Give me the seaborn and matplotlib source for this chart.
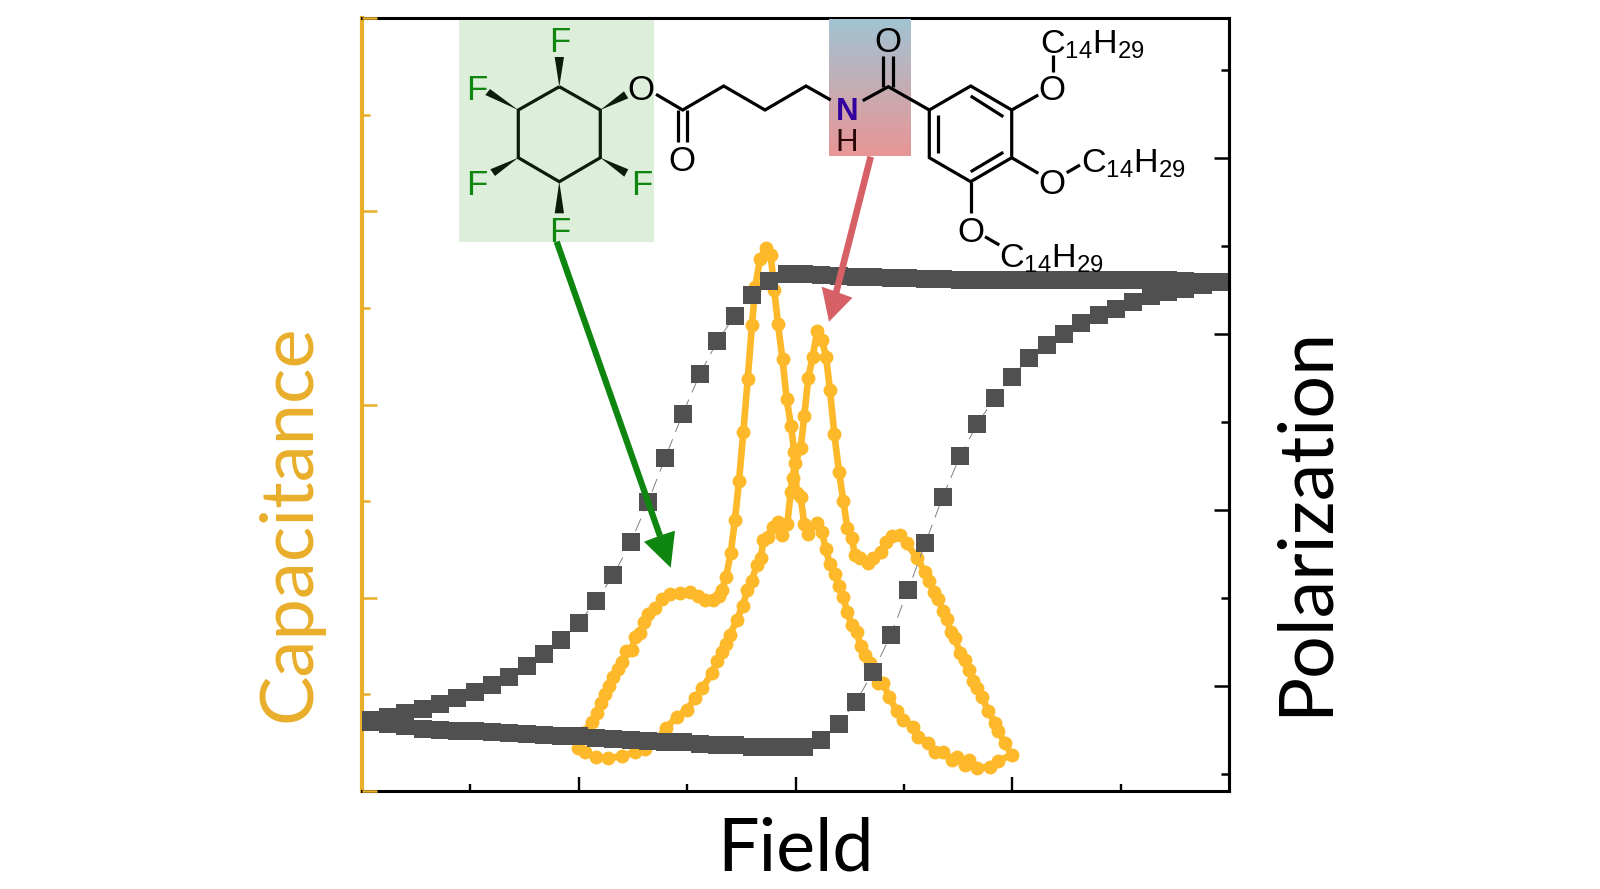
import matplotlib
matplotlib.use("Agg")
import matplotlib.pyplot as plt
import numpy as np
import seaborn as sns
from matplotlib.colors import LinearSegmentedColormap
from matplotlib.patches import Polygon

# sweep positions shared by the two polarization branches
sweep_field = [-424.8, -407.5, -390.2, -372.8, -355.5, -338.2, -320.8, -303.5, -286.2, -268.8,
               -251.5, -234.2, -216.8, -199.5, -182.2, -164.8, -147.5, -130.2, -112.8, -95.5,
               -78.2, -60.8, -43.5, -26.2, -8.8, 8.5, 25.8, 43.2, 60.5, 77.8,
               95.2, 112.5, 129.8, 147.2, 164.5, 181.8, 199.2, 216.5, 233.8, 251.2,
               268.5, 285.8, 303.2, 320.5, 337.8, 355.2, 372.5, 389.8, 407.2, 424.5]

pol_rising = [-299.7, -301.7, -304.3, -307, -307.7, -308.7, -309, -310.3, -311, -312,
              -312.7, -313.7, -314.3, -316, -316.7, -317.7, -319, -319.7, -320, -321.7,
              -322.7, -323.3, -324.7, -325.3, -325.3, -325.3, -318, -302.3, -279.7, -249.7,
              -213, -168.3, -121, -75, -34.3, -2, 24.3, 45.3, 64, 76.5,
              88, 98.7, 107, 113.3, 120, 125.7, 129.7, 133, 137.3, 140]

pol_falling = [-297.7, -295, -291.3, -287, -282.3, -276.3, -270.3, -262.7, -254.7, -244,
               -232, -218, -200.7, -179, -153.3, -120.3, -80, -35.7, 8.3, 48.2,
               80.7, 106.2, 126.7, 140.7, 148.3, 148.3, 147.3, 146, 145.2, 144.5,
               144, 143.5, 143, 142.6, 142.3, 142, 142, 142, 142, 142.2,
               142.3, 142.4, 142.4, 142.4, 142.4, 142.3, 142.3, 141, 140, 140.3]

cap_field = [-212.2, -203.8, -198.8, -194.5, -190.5, -186.2, -182.2, -177.2, -173.2, -169.5,
             -163.8, -160.5, -155.5, -151.5, -147.2, -140.5, -133.8, -125.5, -115.5, -105.5,
             -97.2, -90.5, -82.2, -76.5, -73.8, -69.5, -64.8, -60.5, -56.5, -52.2,
             -47.8, -43.5, -40.2, -35.5, -29.8, -24.8, -21.2, -17.5, -13, -8.8,
             -4.5, -1.2, 1.2, 5.2, 8.8, 12.8, 21.8, 26.5, 30.2, 34.5,
             39, 43.5, 47.8, 51.8, 56.2, 61.2, 65.2, 69.5, 74.5, 82.8,
             87.8, 93.5, 101.2, 107.8, 117.8, 122.8, 132.8, 139.5, 147.8, 156.2,
             161.2, 169.5, 173.5, 181.2, 194.5, 202.8, 216.2, 209.5, 202.8, 199.5,
             192.8, 186.2, 181.2, 177.2, 173.5, 169.5, 164.5, 159.5, 155.5, 151.2,
             147.2, 142.8, 138.5, 133.8, 129.5, 121.5, 111.2, 104.5, 96.2, 90.5,
             85.2, 77.8, 72.8, 64.5, 59.5, 56.2, 51.8, 47.8, 43.5, 38.8,
             34.5, 30.5, 26.5, 21.8, 17.2, 12.8, 8.8, 5.2, -0.5, -3,
             -4.8, -8.2, -13.2, -17.2, -22.2, -27.2, -32.2, -34.5, -38.8, -43.8,
             -48.2, -52.8, -58.8, -65.5, -69.5, -73.8, -78.2, -83.8, -93.2, -100.5,
             -108.8, -118.8, -129.5, -140.5, -150.5, -160.5, -173.8, -187.2, -199.5, -210.5,
             -217.2, -212.2]

cap_values = [57.7, 69.3, 78.3, 88.3, 97, 105.3, 113.7, 122, 129.3, 140.3,
              141, 153.7, 157.7, 169.3, 176.7, 182.7, 191.7, 197, 198.3, 199.3,
              195, 191, 191, 195, 201, 213.7, 237.7, 271.5, 310, 358.7,
              412, 466.3, 504.3, 531.7, 542.7, 536, 501, 466.7, 431.7, 392,
              365, 339.3, 298, 293.7, 267, 257, 268.3, 259.3, 242, 226.7,
              216.7, 205.5, 194, 178.7, 166, 158.7, 145, 136, 127.7, 108.3,
              107.7, 94.3, 80.3, 71, 64.3, 54.3, 47.7, 39.3, 39.3, 31,
              33.7, 26, 31, 22.7, 24.3, 30.3, 36, 47.7, 60.3, 67.7,
              80.3, 94.3, 102.7, 110, 121, 131, 137.7, 152.7, 159.3, 171.7,
              180.3, 192, 199.3, 210, 219.3, 233, 247.7, 256, 255, 249.3,
              239.3, 232.7, 227.7, 232.7, 236, 253.3, 263.3, 290, 319.3, 357,
              401, 434.3, 451, 460.3, 434.3, 413.3, 375.3, 342.7, 327.7, 313,
              299.3, 267, 256, 269.3, 264.3, 254.3, 251, 232.7, 226, 210,
              201, 185, 171, 156, 147, 139.3, 130.3, 117.7, 102.7, 92.7,
              81, 74.3, 62.7, 49.3, 41.7, 38.7, 35, 32.7, 33.7, 39.3,
              42.7, 57.7]

field_major = [-216.75, 0, 216.75]
field_minor = [-325.1, -108.4, 108.4, 325.1]
cap_major = [0, 193.2, 386.5, 579.8, 773]
cap_minor = [96.6, 289.9, 483.1, 676.4]
pol_major = [-264, -88, 88, 264]
pol_minor = [-352, -176, 0, 176, 352]

ORANGE = "#E9AE2A"
YELLOW = "#FDB92A"
GREY = "#505050"
GREEN = "#0F860F"
RED = "#D66065"
ARIAL = "Liberation Sans"

sns.set_style("ticks")
plt.rcParams["font.family"] = ["Lato", "DejaVu Sans"]
plt.rcParams["mathtext.default"] = "regular"

fig = plt.figure(figsize=(16, 8.89), dpi=100)
ax = fig.add_axes([362 / 1600, 98 / 889, 867 / 1600, 773 / 889])
ax2 = ax.twinx()

# capacitance loop on the left axis
sns.lineplot(x=cap_field, y=cap_values, sort=False, estimator=None, ax=ax, color=YELLOW,
             linewidth=4.8, marker="o", markersize=10, markeredgewidth=0)

# polarization hysteresis on the right axis
for branch in [pol_rising, pol_falling]:
    sns.lineplot(x=sweep_field, y=branch, sort=False, estimator=None, ax=ax2, color="#808080",
                 linewidth=0.7, linestyle=(0, (14, 8)), marker="s", markersize=12.5,
                 markerfacecolor=GREY, markeredgewidth=0)

ax.set_xlim(-433.5, 433.5)
ax.set_ylim(0, 773)
ax2.set_ylim(-369, 404)

ax.set_xticks(field_major)
ax.set_xticks(field_minor, minor=True)
ax.set_yticks(cap_major)
ax.set_yticks(cap_minor, minor=True)
ax2.set_yticks(pol_major)
ax2.set_yticks(pol_minor, minor=True)
ax.set_xticklabels([])
ax.set_yticklabels([])
ax2.set_yticklabels([])

ax.set_axisbelow(False)
ax.tick_params(axis="x", which="major", direction="in", length=10, width=1.7, color="black")
ax.tick_params(axis="x", which="minor", direction="in", length=5, width=1.7, color="black")
ax.tick_params(axis="y", which="major", direction="in", length=11, width=1.8, color=ORANGE)
ax.tick_params(axis="y", which="minor", direction="in", length=5.5, width=1.8, color=ORANGE)
ax2.tick_params(axis="y", which="major", direction="in", length=11, width=1.8, color="black")
ax2.tick_params(axis="y", which="minor", direction="in", length=5.5, width=1.8, color="black")

for side in ["top", "bottom", "right"]:
    ax.spines[side].set_linewidth(2.2)
    ax.spines[side].set_color("black")
ax.spines["left"].set_linewidth(3.0)
ax.spines["left"].set_color(ORANGE)
ax2.spines["right"].set_linewidth(2.2)
ax2.spines["right"].set_color("black")
for side in ["top", "bottom", "left"]:
    ax2.spines[side].set_visible(False)

ax.set_xlabel("Field", fontsize=53, color="black")
ax.set_ylabel("Capacitance", fontsize=53.4, color=ORANGE)
ax2.set_ylabel("Polarization", fontsize=54.3, color="black")
ax.xaxis.set_label_coords(0.5, -0.0766)
ax.xaxis.label.set_verticalalignment("center")
ax.yaxis.set_label_coords(-0.0835, 0.346)
ax.yaxis.label.set_verticalalignment("center")
ax2.yaxis.set_label_coords(1.0877, 0.350)
ax2.yaxis.label.set_verticalalignment("center")
ax2.yaxis.label.set_rotation(90)

# overlay in picture units for the molecule and the arrows
top = fig.add_axes([0, 0, 1, 1], facecolor="none")
top.axis("off")

top.fill_between([459, 653.7], 20, 241.7, color="#DDEEDA", linewidth=0, zorder=1)
amide = LinearSegmentedColormap.from_list("amide", ["#A2C3D2", "#E89696"])
top.imshow(np.linspace(0, 1, 64).reshape(-1, 1), cmap=amide, extent=(828.7, 910, 155.7, 19.5),
           origin="upper", aspect="auto", interpolation="bilinear", zorder=1)


def bond(points, color="black", lw=2.3):
    xs, ys = zip(*points)
    top.plot(xs, ys, color=color, linewidth=lw, solid_joinstyle="miter", solid_capstyle="butt", zorder=3)


def wedge(points):
    top.add_patch(Polygon(points, closed=True, facecolor="#0C1C0A", edgecolor="none", zorder=3))


def atom(x, y, label, color="black", size=25, **kw):
    top.text(x, y + 3, label, color=color, fontsize=size, ha="center", va="center", family=ARIAL, zorder=4, **kw)


def alkyl(x, y):
    top.text(x - 2, y + 3, "$C_{14}H_{29}$", color="black", fontsize=24.6, ha="left", va="baseline",
             family=ARIAL, zorder=4)


# fluorinated ring
bond([(559.3, 86.7), (600.3, 110), (600.3, 157.7), (559.3, 181.7), (518.3, 157.7), (518.3, 110), (559.3, 86.7)], color="#0C1C0A")
wedge([(559.3, 86.7), (554.7, 57), (564, 57)])
wedge([(518.3, 110), (485.3, 95), (490, 89)])
wedge([(600.3, 110), (628.3, 98.3), (624, 91.3)])
wedge([(518.3, 157.7), (490.3, 169.3), (495, 176)])
wedge([(600.3, 157.7), (628.3, 169.3), (624.3, 176.7)])
wedge([(559.3, 181.7), (554.7, 213.3), (564, 213.3)])
atom(559.3, 40, "F", GREEN)
atom(476.7, 87.3, "F", GREEN)
atom(476.7, 182.3, "F", GREEN)
atom(641.7, 182.3, "F", GREEN)
atom(559.3, 230, "F", GREEN)

# ester and linker
atom(641, 87.3, "O")
bond([(656, 94.3), (682.7, 110), (723.7, 86), (765, 110), (806, 86), (830.7, 100)])
bond([(678.3, 110), (678.3, 141.7)])
bond([(687.3, 110), (687.3, 141.7)])
atom(682.3, 158.3, "O")

# amide
atom(846.7, 108.5, "N", "#3300A0", size=22.5, fontweight="bold")
atom(846.7, 140, "H", "#2A0808", size=22.5)
bond([(862.7, 100.7), (888.3, 86.7), (929.3, 110)])
bond([(883.3, 86.7), (883.3, 55.7)])
bond([(893.3, 86.7), (893.3, 55.7)])
atom(888.3, 40, "O")

# benzene ring with its alkoxy arms
bond([(929.3, 110), (970.7, 86), (1011.7, 110), (1011.7, 157.7), (970.7, 181.7), (929.3, 157.7), (929.3, 110)])
bond([(938.3, 115), (938.3, 153.3)])
bond([(970.7, 96), (1003.3, 116.7)])
bond([(970.7, 171.7), (1003.3, 152.3)])
bond([(1011.7, 110), (1038.3, 95)])
atom(1052.3, 87.3, "O")
bond([(1053.3, 71.7), (1053.3, 55)])
alkyl(1041.7, 50.7)
bond([(1011.7, 157.7), (1038.3, 173.3)])
atom(1052.3, 181.7, "O")
bond([(1066.7, 172.7), (1080, 165)])
alkyl(1083.3, 170)
bond([(970.7, 181.7), (970.7, 213.3)])
atom(970.7, 229.3, "O")
bond([(985, 236.7), (999.3, 245)])
alkyl(1001, 265)

# arrows from the molecule to the peaks
bond([(556.7, 241.7), (660, 536)], color=GREEN, lw=4.5)
top.add_patch(Polygon([(670.7, 567.7), (644, 541.7), (661.7, 535), (675, 530.7)], closed=True,
                      facecolor=GREEN, edgecolor="none", zorder=3))
bond([(870.7, 156.7), (835, 297)], color=RED, lw=4.8)
top.add_patch(Polygon([(829, 321.7), (821.7, 286.7), (834, 291), (852.5, 297.7)], closed=True,
                      facecolor=RED, edgecolor="none", zorder=3))

top.set_xlim(0, 1600)
top.set_ylim(889, 0)

fig.savefig("out.png", dpi=100)
